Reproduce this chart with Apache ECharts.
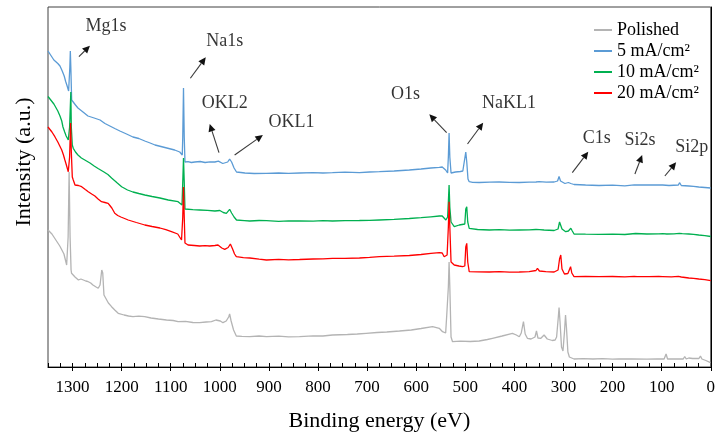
<!DOCTYPE html>
<html>
<head>
<meta charset="utf-8">
<title>XPS survey spectra</title>
<script src="https://cdn.jsdelivr.net/npm/echarts@6/dist/echarts.min.js"></script>
<style>
  html, body { margin: 0; padding: 0; background: #fff; }
  #chart { width: 718px; height: 439px; }
</style>
</head>
<body>
<div id="chart"></div>
<script>
// Survey spectra: [binding energy (eV), intensity (a.u., offset per sample)]
const polished = [
  [1350,137],[1346,135],[1342,133],[1338,130],[1336,128.7],[1330,124],[1326,121],[1322,120.3],[1317.5,113],
  [1312,102],[1310,100.3],[1309,130],[1307,195],[1305,130],[1303,97],[1302,93.7],[1295,90],[1288,87],
  [1283,88],[1278,87],[1273,86],[1268,85.3],[1263,84],[1258.5,82],[1252,80],[1247.7,78.7],[1244,82],
  [1240.5,97],[1238.5,94],[1236,72],[1234,70.3],[1227,64],[1220.5,60.3],[1214,57],[1207,53.7],[1195,52],
  [1186,51],[1177,50.3],[1165,50.8],[1153,50.3],[1140,49],[1125,48],[1108.6,47],[1095,46.5],[1085,45.3],
  [1070,45.6],[1055,44.5],[1041,44.3],[1028,45],[1017,45.3],[1008,47],[1004,48.7],[999,46],[993.6,44.3],
  [987,46],[982,50],[980,53],[977,46],[972,37],[966.4,31],[955,30.7],[939,30.3],[920,31],[905,30.3],
  [880,30.8],[860,30.2],[837.6,30.3],[810,31.2],[790,31],[770.5,32],[740,32.5],[720,33],[702,33.7],
  [680,34.5],[660,35],[634,36],[610,37],[590,38.5],[566.6,40.3],[553,38.7],[546.3,35.3],[540,34],
  [538,50],[534.5,80],[533,105],[531.5,80],[529,30],[526,25.3],[510,25.8],[490,25.5],[471.7,26],
  [455,27.5],[444.6,28.7],[425,31],[404,33.7],[396,32],[390,30.3],[386,34],[381.5,45.3],[378,33],
  [373.5,28.7],[366,28],[358,30],[355,36],[352,29],[346,28.7],[339.5,32],[333,28],[322.7,26.5],
  [317,27],[314,30],[310.5,50],[309,59.5],[307,45],[304,20],[301,16],[298,35],[295.8,52],[294,40],
  [291,15],[288,10],[285,8.7],[278.5,8],[260,8.3],[240,8],[220,8.4],[200,7.8],[187,8],[160,8.2],
  [130,7.9],[110,8.1],[95,8],[91,13],[88,8],[70,8.2],[56,8],[53,10.5],[50,8],[44.7,9],[37,8.5],
  [34.5,9.5],[30,8.6],[24,8.5],[21,11],[18,8],[10,6.5],[0.6,4.3]
];

const cd5 = [
  [1350,316],[1346,313],[1342,310],[1338,307],[1334,305],[1330,303.5],[1325.6,301],[1321,296],
  [1317,291],[1314,285.5],[1311,281],[1308,276],[1305.5,300],[1304.5,316],[1303.5,300],[1301.8,267],
  [1298.5,265],[1294,262],[1289,259],[1280,255.5],[1268.6,251],[1256,249],[1244,247],[1234,243.5],
  [1224,241],[1214,238.5],[1203.6,236],[1190,233],[1177,230],[1165,228.5],[1152.8,226],[1142,224],
  [1132,222],[1120,220.5],[1108,219],[1100,218],[1092,217],[1081.6,215],[1076.5,212],[1075.5,230],
  [1074,279],[1072.5,230],[1071,205],[1064.7,205.3],[1058,204.5],[1051,205],[1040,205.5],[1030,204.5],
  [1020,205.2],[1010,205],[1003,205.8],[1000,205.5],[994,203.5],[990,203],[984,205],[980,208],
  [976,205],[971,199],[966,195],[957,194.5],[949,194],[930,193.5],[905,193.7],[880,194],[860,193.6],
  [837,194],[810,194.3],[790,194],[770.5,194.3],[745,194.8],[715.6,194.3],[695,195],[675,195.3],
  [645,196],[614,197],[590,198],[570,199],[553,199.7],[547,200],[543,198.7],[540,197],[536,194],
  [534.5,210],[533,234],[531.5,210],[529,194],[526,193.7],[520,195],[510,195.5],[505,196],[501,198],
  [499,215],[497,205],[494.5,188],[492,185.3],[485,184.7],[471.7,184.5],[450,184.8],[431,185],
  [410,184.6],[390,184.5],[370,184.8],[356,185],[353,186.3],[349.7,185.3],[335,184.8],[319,185],
  [312,186],[309,190.5],[306,186],[302,184],[297,183.5],[290,184.5],[285,183.5],[278.5,182.5],
  [255,182],[227.7,181.5],[200,181.8],[175,181.2],[156,182.2],[153,183.5],[150,182],[126,182],
  [106,182.2],[102,183.7],[98,182],[85,181.5],[66,182],[63.6,184.3],[60,181.5],[44.7,181],
  [35,180.6],[24.4,180],[12,179.5],[0,179]
];

const cd10 = [
  [1350,270.5],[1346,268],[1342,266],[1338,263],[1334,261],[1330,256],[1325.6,251],[1322,246],
  [1319.5,240],[1316,235],[1313,231],[1308.7,227],[1306,240],[1303.5,275],[1302.5,240],[1300.5,222],
  [1298.5,218.7],[1294,215],[1289,212],[1282,209],[1275,207],[1264.6,204],[1256,201],[1248,198.5],
  [1236,195],[1228,192.5],[1220.5,189],[1210,184.5],[1200,180.3],[1188,177],[1177,175],[1165,173.5],
  [1152.8,172],[1138,170.5],[1122,169],[1105,167],[1085,165.3],[1077,162],[1075.5,185],[1074,209],
  [1072.5,185],[1071,158],[1068,157],[1055,157.3],[1041,157],[1025,156.6],[1010,156],[1000,156.5],
  [993,154.5],[986.7,153.7],[980,157.7],[976,154],[971,150],[966,147],[950,146.4],[939,146],
  [920,146.5],[905,146.3],[880,145.7],[860,146.2],[837.6,146],[810,145.8],[790,146.3],[770.5,146],
  [745,146.4],[715.6,146.5],[695,146.6],[675,147],[645,147.6],[614,148.5],[590,149.3],[570,150.2],
  [553,151],[547,151],[539.5,147],[536,150],[534.5,165],[533,182],[531.5,160],[529,145],[522.5,140.3],
  [512.3,142],[501,143],[499,158],[497,160.3],[495,145],[492,138.7],[475,137.5],[451,137],[430,137.3],
  [410,136.8],[390,137],[370,137.2],[356,137.5],[353,138.7],[349,137.3],[339.5,137],[319,136.5],
  [311,138],[308,145],[305.5,147],[303,138],[295.4,135.3],[290,136],[287,137.5],[285,138.7],[282,136],
  [278.5,133],[255,132.8],[227.7,132.7],[200,132.9],[175,132.5],[153,133.5],[130,133],[106,133.2],
  [102,134.7],[98,133.4],[89.5,133],[75,133.2],[64,133.6],[61.6,135.3],[58,133.3],[44.7,133],
  [35,132.6],[24.4,132],[12,131.4],[0,130.5]
];

const cd20 = [
  [1350,240],[1346,237.5],[1342,235],[1336,230.3],[1330,225],[1326,221],[1322,217],[1318.5,212],
  [1315.6,207],[1312,201],[1308.7,195.3],[1306,210],[1304,244],[1302.5,215],[1300.5,190],[1298.5,187],
  [1295,182],[1288,181.5],[1281.5,180.3],[1274,177.5],[1268,175.3],[1261,173],[1254.5,171],[1248,168],
  [1241,165.3],[1234,164.5],[1227.5,163.7],[1224,161.5],[1220,159],[1214,153.7],[1208,151.5],
  [1201.6,150],[1194,148.5],[1186.7,147],[1170,144.5],[1152.8,142],[1138,140.5],[1122,139],
  [1110,137.3],[1098.5,135.3],[1085.7,133],[1078,127],[1075.5,150],[1074,180],[1072.5,150],[1071,124],
  [1064.7,122],[1052,121.5],[1041,121],[1030,121.4],[1020.7,121],[1010,121.5],[1003.7,122],[996,119],
  [990,117.7],[983,119.5],[978.5,123],[974,118],[970,113],[966.4,110.3],[952,109.4],[939,109],
  [920,107.8],[905,107],[880,107.6],[860,107.2],[837.6,107.5],[810,108],[790,108.2],[770.5,108.7],
  [745,108.6],[715.6,109],[695,109.6],[675,110.3],[645,110.8],[614,111.5],[590,112.5],[570,113.6],
  [553,114.3],[547,114],[543,110.3],[537,112],[534.5,140],[533,165.3],[531.5,140],[529,105],
  [522.5,102],[513,101],[505.6,100.3],[501,101],[499,120],[497,123.7],[495,105],[492,95.3],[475,95.2],
  [451,95],[430,95.3],[410,94.8],[390,95],[370,95.4],[356,96.5],[353,98.7],[349,96],[336,95.3],
  [319,95],[311,97],[308,108],[305.5,112],[303,98],[298,93],[295.4,92],[291,93.5],[288,95],
  [285.5,100.3],[283,94],[278.5,90.3],[255,90.6],[227.7,90.3],[200,90.5],[175,90.2],[156,90.6],
  [153,91.8],[150,90.4],[126,90.3],[106,90.5],[102,91.6],[98,90.4],[80,90.2],[66,90.6],[63.6,92.3],
  [60,90],[44.7,89],[35,88.6],[24.4,88],[12,87.4],[0,86.3]
];

const sampleNames = ['Polished', '5 mA/cm²', '10 mA/cm²', '20 mA/cm²'];
const sampleData  = [polished, cd5, cd10, cd20];
const lineColors  = ['#B4B4B4', '#5B9BD5', '#00B050', '#FF0000'];

// Peak annotations: name, label anchor and arrow (tail -> head), all in [eV, intensity]
const peakNames  = ['Mg1s', 'Na1s', 'OKL2', 'OKL1', 'O1s', 'NaKL1', 'C1s', 'Si2s', 'Si2p'];
const labelAt    = [[1232,341],[990,326],[990,264],[854,245],[622,273],[411,264],[232,229],[144,227],[38.6,220]];
const arrowTail  = [[1287,310.3],[1060,288.7],[1001.7,214.3],[969.8,212],[538,234.3],[495.5,223],[282,194.3],[154.5,193],[93.5,191]];
const arrowHead  = [[1264.6,321.3],[1028.7,309.7],[1020.6,243],[912.3,232],[573.3,252.7],[463.5,244.3],[249.5,215.3],[139.7,212],[70.5,204.7]];

const serif = "'Liberation Serif', 'Times New Roman', serif";

const chart = echarts.init(document.getElementById('chart'), null, { renderer: 'canvas' });

const spectra = sampleData.map((d, i) => ({
  name: sampleNames[i],
  type: 'line',
  data: d,
  xAxisIndex: 0,
  showSymbol: false,
  symbol: 'none',
  lineStyle: { color: lineColors[i], width: 1.3 },
  itemStyle: { color: lineColors[i] },
  silent: true,
  z: 2 + i
}));

// Arrow: a thin shaft with a filled head at the second point
function renderArrow(params, api) {
  const a = api.coord([api.value(0), api.value(1)]);
  const b = api.coord([api.value(2), api.value(3)]);
  const dx = b[0] - a[0], dy = b[1] - a[1];
  const len = Math.sqrt(dx * dx + dy * dy) || 1;
  const ux = dx / len, uy = dy / len;
  const headLen = 7.5, headHalf = 3.6;
  const bx = b[0] - ux * headLen, by = b[1] - uy * headLen;
  return {
    type: 'group',
    children: [
      {
        type: 'line',
        shape: { x1: a[0], y1: a[1], x2: bx, y2: by },
        style: { stroke: '#3a3a3a', lineWidth: 1.1 }
      },
      {
        type: 'polygon',
        shape: {
          points: [
            [b[0], b[1]],
            [bx - uy * headHalf, by + ux * headHalf],
            [bx + uy * headHalf, by - ux * headHalf]
          ]
        },
        style: { fill: '#111' }
      }
    ]
  };
}

chart.setOption({
  animation: false,
  backgroundColor: '#fff',
  grid: {
    left: 48, right: 6, top: 7, bottom: 72,
    show: true, borderColor: '#404040', borderWidth: 1, backgroundColor: 'transparent'
  },
  legend: {
    data: sampleNames,
    orient: 'vertical',
    left: 589, top: 16,
    icon: 'rect',
    itemWidth: 18, itemHeight: 2, itemGap: 3,
    selectedMode: false,
    textStyle: { fontFamily: serif, fontSize: 18, color: '#000', lineHeight: 18 }
  },
  xAxis: [
    {
      type: 'value', min: 0, max: 1350, interval: 100, inverse: true,
      name: 'Binding energy (eV)', nameLocation: 'middle', nameGap: 43,
      nameTextStyle: { fontFamily: serif, fontSize: 22, color: '#000' },
      axisLine: { show: true, onZero: false, lineStyle: { color: '#000', width: 1 } },
      axisTick: { show: true, inside: false, length: 4, lineStyle: { color: '#000' } },
      axisLabel: { show: true, margin: 12, fontFamily: serif, fontSize: 17, color: '#000',
                   showMinLabel: true, showMaxLabel: false,
                   formatter: v => String(v) },
      splitLine: { show: false }
    },
    {
      // finer 25 eV ticks pointing into the plot
      type: 'value', min: 0, max: 1350, interval: 25, inverse: true, position: 'bottom',
      axisLine: { show: false },
      axisTick: { show: true, inside: true, length: 4, lineStyle: { color: '#000' } },
      axisLabel: { show: false },
      splitLine: { show: false }
    }
  ],
  yAxis: {
    type: 'value', min: 0, max: 360,
    name: 'Intensity (a.u.)', nameLocation: 'middle', nameGap: 13,
    nameTextStyle: { fontFamily: serif, fontSize: 22, color: '#000', padding: [0, 0, 0, 50] },
    axisLine: { show: true, lineStyle: { color: '#000', width: 1 } },
    axisTick: { show: false },
    axisLabel: { show: false },
    splitLine: { show: false }
  },
  series: spectra.concat([
    {
      name: 'peak labels',
      type: 'scatter',
      data: labelAt.map((p, i) => ({ value: p, name: peakNames[i] })),
      symbolSize: 0.1,
      itemStyle: { color: 'transparent' },
      silent: true,
      z: 10,
      label: {
        show: true, position: 'inside', formatter: '{b}',
        fontFamily: serif, fontSize: 18, color: '#000'
      }
    },
    {
      name: 'peak arrows',
      type: 'custom',
      renderItem: renderArrow,
      data: arrowTail.map((t, i) => [t[0], t[1], arrowHead[i][0], arrowHead[i][1]]),
      encode: { x: [0, 2], y: [1, 3] },
      silent: true,
      clip: false,
      z: 10
    }
  ])
});
</script>
</body>
</html>
